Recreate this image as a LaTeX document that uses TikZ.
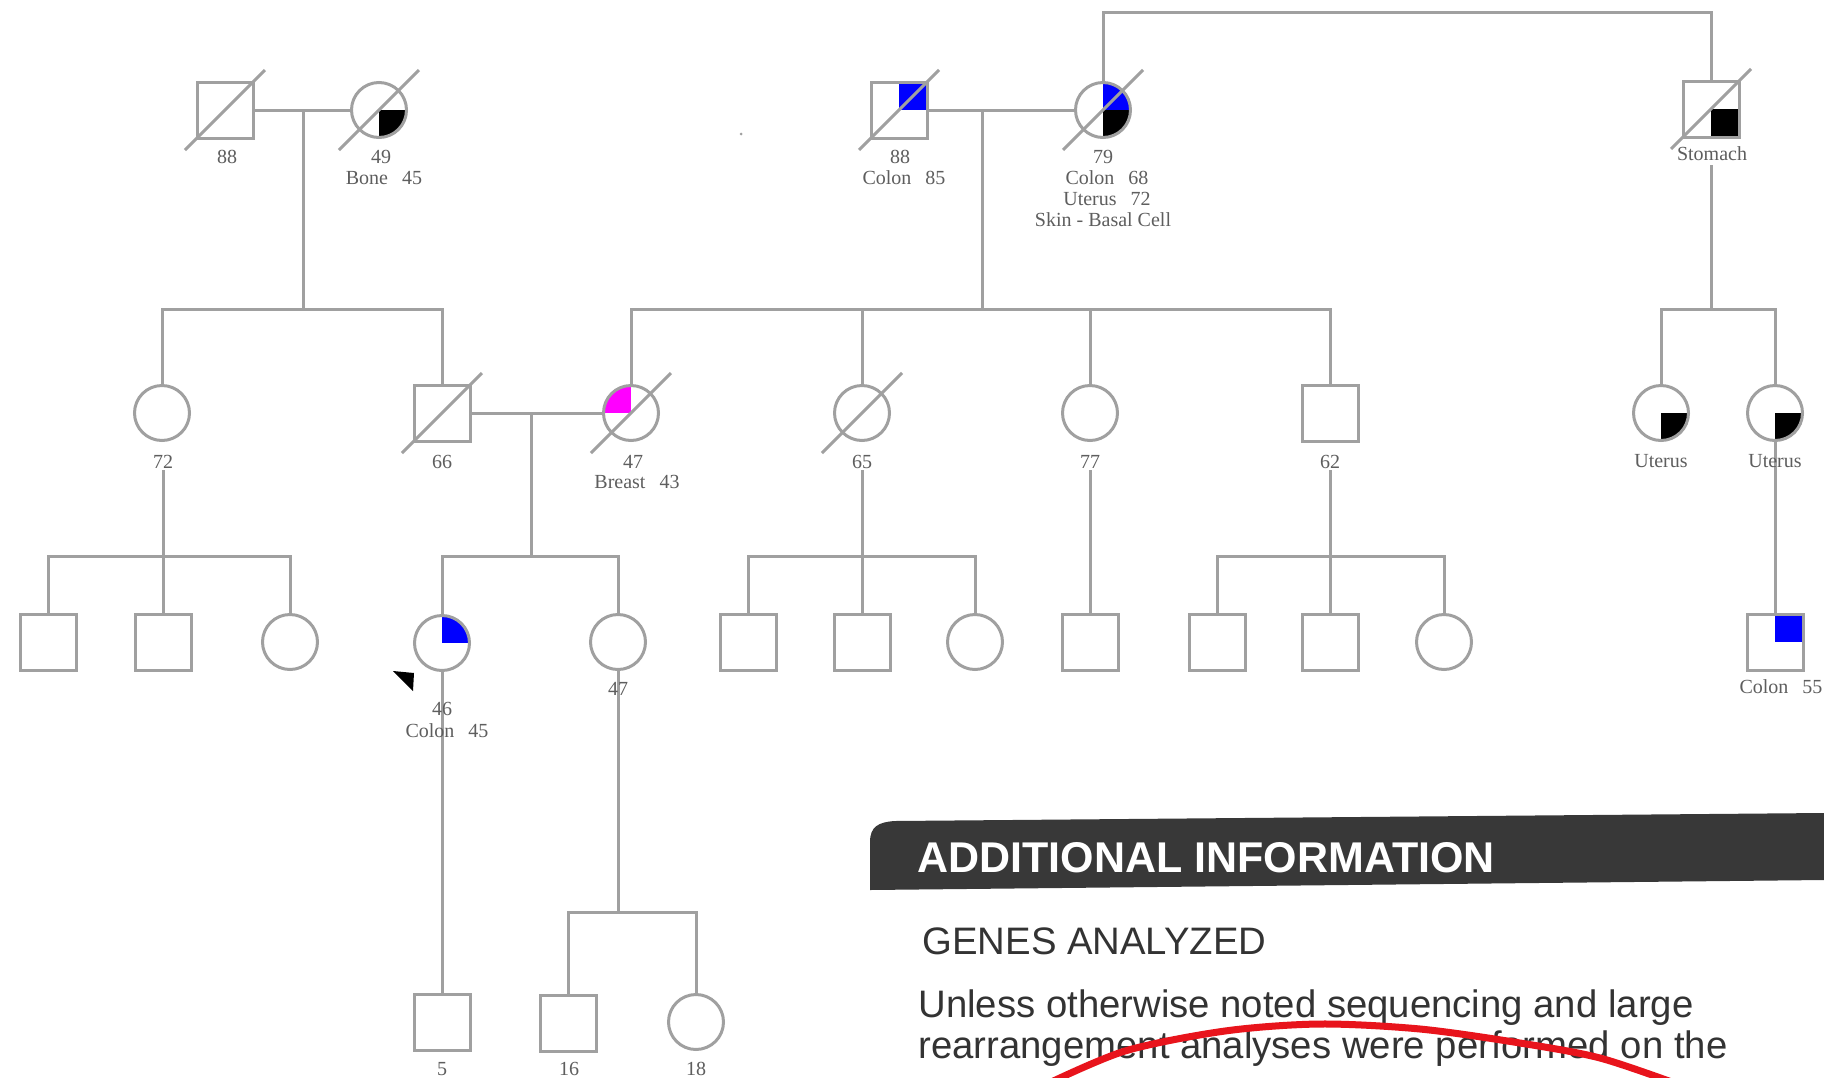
\documentclass[tikz,border=0pt]{standalone}
\usepackage{fontspec}
\setmainfont{Liberation Serif}
\newfontfamily\sansf{Liberation Sans}
\definecolor{lg}{HTML}{A0A0A0}
\definecolor{tg}{HTML}{5E5E5E}
\definecolor{bl}{HTML}{0000FF}
\definecolor{mg}{HTML}{FF00FF}
\definecolor{band}{HTML}{383838}
\definecolor{txtdark}{HTML}{333333}
\definecolor{redpen}{HTML}{E8141C}
\begin{document}
\begin{tikzpicture}[x=1pt,y=-1pt,line width=3pt,line join=miter,
  male/.style={rectangle,draw=lg,fill=white,minimum size=56pt,inner sep=0pt},
  female/.style={circle,draw=lg,fill=white,minimum size=55pt,inner sep=0pt},
  qUR/.style={path picture={\fill[#1] (path picture bounding box.center) rectangle (path picture bounding box.north east);}},
  qLR/.style={path picture={\fill[#1] (path picture bounding box.center) rectangle (path picture bounding box.south east);}},
  qUL/.style={path picture={\fill[#1] (path picture bounding box.center) rectangle (path picture bounding box.north west);}},
  qRR/.style 2 args={path picture={\fill[#1] (path picture bounding box.center) rectangle (path picture bounding box.north east);
                                   \fill[#2] (path picture bounding box.center) rectangle (path picture bounding box.south east);}},
  lbl/.style={text=tg,font=\fontsize{20}{22}\selectfont,anchor=base,inner sep=0pt},
  conn/.style={draw=lg,line width=3pt},
  slashline/.style={draw=lg,line width=3pt},
  infotext/.style={text=txtdark,anchor=base west,inner sep=0pt,font=\sansf\fontsize{38.3}{42}\selectfont}]
\newcommand\pedslash[1]{\draw[slashline] ([shift={(-40,40)}]#1.center) -- ([shift={(40,-40)}]#1.center);}

\useasboundingbox (0,0) rectangle (1824,1077);
\fill[white] (0,0) rectangle (1824,1077);

% ---------- coordinates ----------
\coordinate (top) at (0,12);
\coordinate (ABd) at (303,110);
\coordinate (s1) at (303,309);
\coordinate (CDd) at (982,110);
\coordinate (s2) at (982,309);
\coordinate (Ed) at (1711,165);
\coordinate (s4) at (1711,309);
\coordinate (GHd) at (531,413);
\coordinate (s5) at (531,556);
\coordinate (Fd) at (163,470);
\coordinate (s3) at (163,556);
\coordinate (Id) at (862,470);
\coordinate (s6) at (862,556);
\coordinate (Jd) at (1090,470);
\coordinate (Kd) at (1330,470);
\coordinate (s7) at (1330,556);
\coordinate (s8) at (618,912);

% ---------- individuals ----------
% Generation I
\node[male] (A) at (225,110) {};
\node[female,qLR=black] (B) at (379,110) {};
\node[male,qUR=bl] (C) at (899,110) {};
\node[female,qRR={bl}{black}] (D) at (1103,110) {};
\node[male,qLR=black] (E) at (1711,109) {};
% Generation II
\node[female] (F) at (162,413) {};
\node[male] (G) at (442,413) {};
\node[female,qUL=mg] (H) at (631,413) {};
\node[female] (I) at (862,413) {};
\node[female] (J) at (1090,413) {};
\node[male] (K) at (1330,413) {};
\node[female,qLR=black] (L) at (1661,413) {};
\node[female,qLR=black] (M) at (1775,413) {};
% Generation III
\node[male] (T1) at (48,642) {};
\node[male] (T2) at (163,642) {};
\node[female] (T3) at (290,642) {};
\node[female,qUR=bl] (N) at (442,643) {};
\node[female] (O) at (618,642) {};
\node[male] (U1) at (748,642) {};
\node[male] (U2) at (862,642) {};
\node[female] (U3) at (975,642) {};
\node[male] (V) at (1090,642) {};
\node[male] (W1) at (1217,642) {};
\node[male] (W2) at (1330,642) {};
\node[female] (W3) at (1444,642) {};
\node[male,qUR=bl] (P) at (1775,642) {};
% Generation IV
\node[male] (Q) at (442,1022) {};
\node[male] (R1) at (568,1023) {};
\node[female] (R2) at (696,1022) {};

% ---------- connectors ----------
\draw[conn] (A) -- (B);
\draw[conn] (ABd) -- (s1);
\draw[conn] (F.north) -- (F.north|-s1) -- (G.north|-s1) -- (G.north);
\draw[conn] (C) -- (D);
\draw[conn] (CDd) -- (s2);
\draw[conn] (H.north) -- (H.north|-s2) -- (K.north|-s2) -- (K.north);
\draw[conn] (I.north) -- (I.north|-s2);
\draw[conn] (J.north) -- (J.north|-s2);
\draw[conn] (D.north) -- (D.north|-top) -- (E.north|-top) -- (E.north);
\draw[conn] (Ed) -- (s4);
\draw[conn] (L.north) -- (L.north|-s4) -- (M.north|-s4) -- (M.north);
\draw[conn] (G) -- (H);
\draw[conn] (GHd) -- (s5);
\draw[conn] (N.north) -- (N.north|-s5) -- (O.north|-s5) -- (O.north);
\draw[conn] (Fd) -- (T2.north);
\draw[conn] (T1.north) -- (T1.north|-s3) -- (T3.north|-s3) -- (T3.north);
\draw[conn] (Id) -- (U2.north);
\draw[conn] (U1.north) -- (U1.north|-s6) -- (U3.north|-s6) -- (U3.north);
\draw[conn] (Jd) -- (V.north);
\draw[conn] (Kd) -- (W2.north);
\draw[conn] (W1.north) -- (W1.north|-s7) -- (W3.north|-s7) -- (W3.north);
\draw[conn] (M.south) -- (P.north);
\draw[conn] (N.south) -- (Q.north);
\draw[conn] (O.south) -- (s8);
\draw[conn] (R1.north) -- (R1.north|-s8) -- (R2.north|-s8) -- (R2.north);

% ---------- deceased slashes ----------
\pedslash{A}
\pedslash{B}
\pedslash{C}
\pedslash{D}
\pedslash{E}
\pedslash{G}
\pedslash{H}
\pedslash{I}

% proband arrow
\fill[black] (393,671) -- (414,673) -- (413,691) -- cycle;
% small speck
\fill[lg] (741,134) circle (1.5pt);

% ---------- labels ----------
\node[lbl] (lA) at (227,163) {88};
\node[lbl] (lB1) at (381,163) {49};
\node[lbl] (lB2) at (384,184) {Bone\hspace{14pt}45};
\node[lbl] (lC1) at (900,163) {88};
\node[lbl] (lC2) at (904,184) {Colon\hspace{14pt}85};
\node[lbl] (lD1) at (1103,163) {79};
\node[lbl] (lD2) at (1107,184) {Colon\hspace{14pt}68};
\node[lbl] (lD3) at (1107,205) {Uterus\hspace{14pt}72};
\node[lbl] (lD4) at (1103,226) {Skin - Basal Cell};
\node[lbl] (lE) at (1712,160) {Stomach};
\node[lbl] (lF) at (163,468) {72};
\node[lbl] (lG) at (442,468) {66};
\node[lbl] (lH1) at (633,468) {47};
\node[lbl] (lH2) at (637,488) {Breast\hspace{14pt}43};
\node[lbl] (lI) at (862,468) {65};
\node[lbl] (lJ) at (1090,468) {77};
\node[lbl] (lK) at (1330,468) {62};
\node[lbl] (lL) at (1661,467) {Uterus};
\node[lbl] (lM) at (1775,467) {Uterus};
\node[lbl] (lN1) at (442,715) {46};
\node[lbl] (lN2) at (447,737) {Colon\hspace{14pt}45};
\node[lbl] (lO) at (618,695) {47};
\node[lbl] (lP) at (1781,693) {Colon\hspace{14pt}55};
\node[lbl] (lQ) at (442,1075) {5};
\node[lbl] (lR1) at (569,1075) {16};
\node[lbl] (lR2) at (696,1075) {18};

% ---------- additional information block ----------
\fill[band] (870,890) -- (870,842) .. controls (870,827) and (878,822) .. (895,821)
  -- (1824,813) -- (1824,880) -- cycle;
\node[anchor=base west,inner sep=0pt,text=white,font=\sansf\bfseries\fontsize{43}{46}\selectfont]
  (hdr) at (916,872) {ADDITIONAL INFORMATION};
\node[infotext] (genes) at (921,954) {GENES ANALYZED};
\node[infotext] (line1) at (917,1017) {Unless otherwise noted sequencing and large};
\node[infotext] (line2) at (917,1058) {rearrangement analyses were performed on the};
\draw[redpen,line width=7pt,line cap=round] plot[smooth] coordinates
  {(1045,1085) (1125,1051) (1225,1031) (1320,1024) (1420,1029) (1520,1043) (1600,1058) (1680,1085)};
\end{tikzpicture}
\end{document}
